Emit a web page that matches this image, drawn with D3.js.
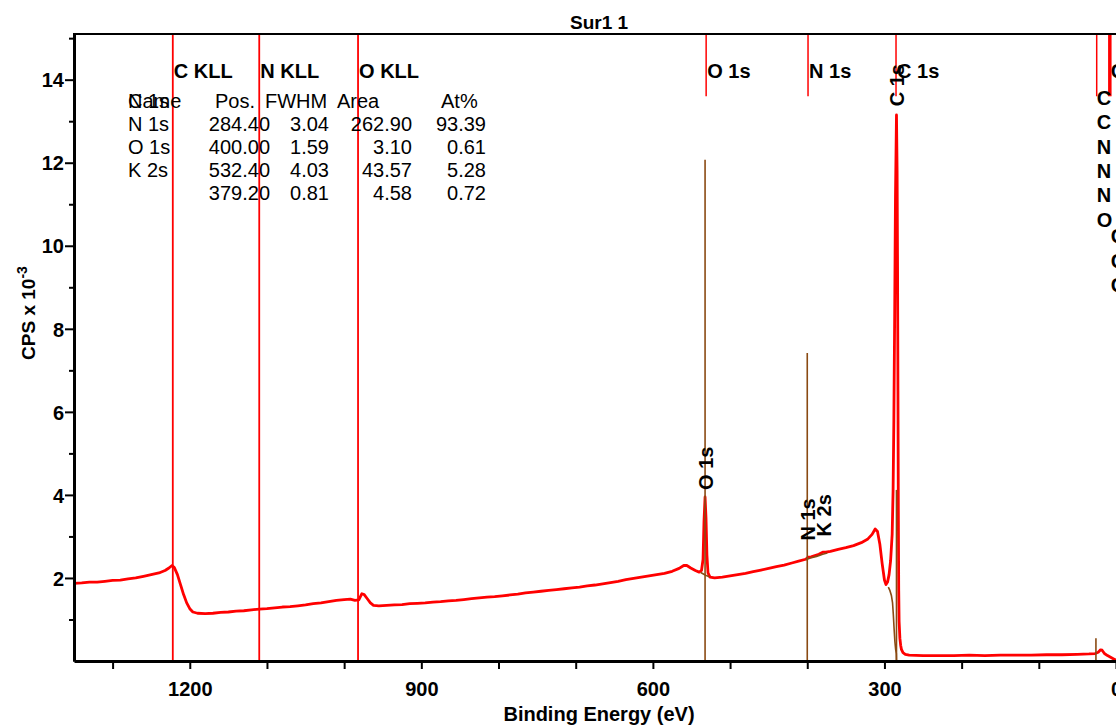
<!DOCTYPE html>
<html>
<head>
<meta charset="utf-8">
<script src="https://cdn.jsdelivr.net/npm/d3@7"></script>
<style>
  html, body { margin: 0; padding: 0; background: #fff; overflow: hidden; }
  svg { display: block; }
  text { font-family: "Liberation Sans", Arial, Helvetica, sans-serif; fill: #000; }
</style>
</head>
<body>
<svg id="chart" width="1116" height="725"></svg>
<script>
// Survey spectrum "Sur1 1": binding energy (eV) against counts (CPS x 10^-3)
const bindingEnergy = [
  1350, 1340, 1330, 1320, 1310, 1300, 1290, 1280, 1270, 1260, 1250, 1240, 1232, 1227, 1223, 1220,
  1216, 1212, 1208, 1204, 1200, 1196, 1190, 1180, 1170, 1160, 1150, 1140, 1130, 1120, 1110, 1100,
  1090, 1080, 1070, 1060, 1050, 1040, 1030, 1020, 1010, 1000, 992, 986, 981, 977, 974, 970,
  966, 962, 955, 945, 935, 925, 915, 905, 895, 885, 875, 865, 855, 845, 835, 825,
  815, 805, 795, 785, 775, 765, 755, 745, 735, 725, 715, 705, 695, 685, 675, 665,
  655, 645, 635, 625, 615, 605, 595, 585, 575, 566, 560, 556, 551, 545, 540, 537,
  535, 533.8, 532.4, 531.2, 530, 528.6, 526, 520, 510, 500, 490, 480, 470, 460, 450, 440,
  430, 420, 410, 402, 399, 395, 390, 385, 380, 376, 370, 360, 350, 340, 330, 322,
  316, 312, 309, 306, 303, 300, 298, 296, 294, 292, 290, 288.8, 287.8, 286.8, 285.7, 284.4,
  283.6, 283.0, 282.5, 282.0, 281.5, 281.0, 280.0, 279.0, 278.0, 276.0, 273.0, 268, 250, 230, 210, 190,
  170, 150, 130, 110, 90, 70, 50, 35, 27, 23, 20, 18, 15, 11, 7, 3, 0
];
const cps = [
  1.87, 1.88, 1.90, 1.90, 1.92, 1.94, 1.95, 1.98, 2.00, 2.04, 2.08, 2.12, 2.18, 2.24, 2.30, 2.25,
  2.08, 1.84, 1.60, 1.40, 1.26, 1.18, 1.15, 1.14, 1.15, 1.17, 1.18, 1.20, 1.21, 1.23, 1.25, 1.26,
  1.28, 1.30, 1.31, 1.33, 1.35, 1.38, 1.40, 1.43, 1.46, 1.48, 1.49, 1.46, 1.47, 1.62, 1.60, 1.50,
  1.40, 1.34, 1.33, 1.34, 1.35, 1.36, 1.38, 1.39, 1.40, 1.42, 1.43, 1.45, 1.46, 1.48, 1.50, 1.52,
  1.54, 1.55, 1.57, 1.59, 1.61, 1.64, 1.66, 1.68, 1.70, 1.72, 1.74, 1.76, 1.78, 1.81, 1.83, 1.86,
  1.89, 1.92, 1.96, 1.99, 2.02, 2.05, 2.08, 2.11, 2.16, 2.23, 2.30, 2.30, 2.24, 2.18, 2.14, 2.18,
  2.45, 3.35, 3.95, 3.45, 2.55, 2.12, 2.02, 2.00, 2.02, 2.05, 2.08, 2.11, 2.15, 2.19, 2.23, 2.27,
  2.31, 2.36, 2.41, 2.45, 2.50, 2.51, 2.54, 2.57, 2.62, 2.62, 2.64, 2.69, 2.73, 2.78, 2.85, 2.93,
  3.05, 3.18, 3.12, 2.82, 2.35, 1.95, 1.84, 1.90, 2.08, 2.42, 3.05, 4.10, 5.80, 8.20, 11.20, 13.15,
  11.80, 9.40, 6.50, 3.60, 1.70, 0.95, 0.55, 0.38, 0.28, 0.20, 0.16, 0.14, 0.13, 0.13, 0.13, 0.14,
  0.13, 0.14, 0.14, 0.14, 0.15, 0.15, 0.16, 0.17, 0.18, 0.21, 0.27, 0.26, 0.18, 0.13, 0.09, 0.05, 0.02
];

// Fitted backgrounds under the quantified peaks
const bgO1sEnergy = [538, 534, 530, 527];
const bgO1sCps = [2.13, 2.09, 2.05, 2.03];
const bgN1sEnergy = [402, 396, 388, 380, 374];
const bgN1sCps = [2.44, 2.48, 2.52, 2.57, 2.60];
const bgC1sEnergy = [295, 293, 291, 289.5, 288.5, 287.5, 286.5, 285.5, 284.6, 284.4];
const bgC1sCps = [1.78, 1.70, 1.58, 1.40, 1.12, 0.78, 0.48, 0.28, 0.18, 0.0];

// Component markers (position, height)
const componentPos = [532.4, 400.0, 284.4, 26];
const componentHeight = [12.07, 7.42, 4.12, 0.55];

// Element line markers
const augerNames = ["C KLL", "N KLL", "O KLL"];
const augerPos = [1222, 1110, 982];
const coreNames = ["O 1s", "N 1s", "C 1s"];
const corePos = [531, 399, 285];
const edgeLinePos = [25, 8];
const edgeLineWidth = [1.5, 3.5];
const edgeLabelsA = ["C", "C", "N", "N", "N", "O"];
const edgeLabelsB = ["C", "C", "C"];

// Peak annotations (name, position, CPS where the label starts)
const peakLabels = ["O 1s", "N 1s", "K 2s", "C 1s"];
const peakLabelPos = [532.4, 400.0, 379.2, 284.4];
const peakLabelAt = [4.12, 2.9, 3.0, 13.36];

// Quantification table
const tableHeader = ["Name", "Pos.", "FWHM", "Area", "At%"];
const tableNames = ["C 1s", "N 1s", "O 1s", "K 2s"];
const tablePos = ["284.40", "400.00", "532.40", "379.20"];
const tableFwhm = ["3.04", "1.59", "4.03", "0.81"];
const tableArea = ["262.90", "3.10", "43.57", "4.58"];
const tableAt = ["93.39", "0.61", "5.28", "0.72"];

// Axis ticks
const xTicks = d3.range(1300, -1, -100);
const xLabelStep = 300;
const yMajor = [2, 4, 6, 8, 10, 12, 14];
const yMinor = [1, 3, 5, 7, 9, 11, 13, 15];

const W = 1116, H = 725;
const RED = "#ff0000", BROWN = "#8a4a12";
const svg = d3.select("#chart");

const x = d3.scaleLinear().domain([1350, 0]).range([74, 1116]);
const y = d3.scaleLinear().domain([0, 15.1]).range([661, 34]);

svg.append("defs").append("clipPath").attr("id", "plot")
  .append("rect").attr("x", x(1350)).attr("y", y(15.1))
  .attr("width", W - x(1350)).attr("height", y(0) - y(15.1));

// Title
svg.append("text").attr("x", 599).attr("y", 29).attr("text-anchor", "middle")
  .style("font-size", "19px").style("font-weight", "bold").text("Sur1 1");

const plot = svg.append("g").attr("clip-path", "url(#plot)");

// Full-height Auger markers
plot.selectAll("line.auger").data(augerPos).join("line")
  .attr("x1", d => x(d)).attr("x2", d => x(d))
  .attr("y1", y(15.1)).attr("y2", y(0))
  .attr("stroke", RED).attr("stroke-width", 1.8);

// Short core-level markers from the top
plot.selectAll("line.core").data(corePos).join("line")
  .attr("x1", d => x(d)).attr("x2", d => x(d))
  .attr("y1", y(15.1)).attr("y2", y(13.6))
  .attr("stroke", RED).attr("stroke-width", 1.5);

plot.selectAll("line.edge").data(edgeLinePos).join("line")
  .attr("x1", d => x(d)).attr("x2", d => x(d))
  .attr("y1", y(15.1)).attr("y2", y(13.6))
  .attr("stroke", RED).attr("stroke-width", (d, i) => edgeLineWidth[i]);

// Spectrum
const spectrum = bindingEnergy.map((e, i) => [e, cps[i]]);
const line = d3.line().x(d => x(d[0])).y(d => y(d[1]));
plot.append("path").datum(spectrum).attr("d", line)
  .attr("fill", "none").attr("stroke", RED).attr("stroke-width", 2.8)
  .attr("stroke-linejoin", "round");

// Backgrounds
[[bgO1sEnergy, bgO1sCps], [bgN1sEnergy, bgN1sCps], [bgC1sEnergy, bgC1sCps]].forEach(([e, c]) => {
  plot.append("path").datum(e.map((v, i) => [v, c[i]])).attr("d", line)
    .attr("fill", "none").attr("stroke", BROWN).attr("stroke-width", 1.6);
});

// Component markers
plot.selectAll("line.comp").data(componentPos).join("line")
  .attr("x1", d => x(d)).attr("x2", d => x(d))
  .attr("y1", (d, i) => y(componentHeight[i])).attr("y2", y(0))
  .attr("stroke", BROWN).attr("stroke-width", 1.6);

// Axes
const gx = svg.append("g").attr("transform", `translate(0,${y(0)})`)
  .call(d3.axisBottom(x).tickValues(xTicks).tickSize(8).tickSizeOuter(0).tickPadding(13)
    .tickFormat(d => d % xLabelStep === 0 ? d : ""));
const gyMinor = svg.append("g").attr("transform", `translate(${x(1350)},0)`)
  .call(d3.axisLeft(y).tickValues(yMinor).tickSize(5).tickSizeOuter(0).tickFormat(""));
const gy = svg.append("g").attr("transform", `translate(${x(1350)},0)`)
  .call(d3.axisLeft(y).tickValues(yMajor).tickSize(9).tickSizeOuter(0).tickPadding(1));
[gx, gy, gyMinor].forEach(g => {
  g.select(".domain").attr("stroke", "#000").attr("stroke-width", 3);
  g.selectAll(".tick line").attr("stroke", "#000").attr("stroke-width", 2);
  g.selectAll(".tick text").attr("fill", "#000")
    .style("font-size", "20px").style("font-weight", "bold")
    .style("font-family", "'Liberation Sans', Arial, sans-serif");
});
gy.selectAll(".tick text").attr("dy", "0.36em");

// Top frame
svg.append("line").attr("x1", x(1350) - 1).attr("x2", W)
  .attr("y1", y(15.1)).attr("y2", y(15.1))
  .attr("stroke", "#000").attr("stroke-width", 2);

// Axis titles
svg.append("text").attr("x", 599).attr("y", 721).attr("text-anchor", "middle")
  .style("font-size", "20px").style("font-weight", "bold").text("Binding Energy (eV)");
const yt = svg.append("text").attr("transform", "translate(35,313) rotate(-90)")
  .attr("text-anchor", "middle").style("font-size", "19px").style("font-weight", "bold");
yt.append("tspan").text("CPS x 10");
yt.append("tspan").attr("dy", -8).style("font-size", "14px").text("-3");

// Marker labels along the top
const labelFont = g => g.style("font-size", "20px").style("font-weight", "bold");
svg.selectAll("text.auger").data(augerNames).join("text")
  .attr("x", (d, i) => x(augerPos[i]) + 1).attr("y", 78).call(labelFont).text(d => d);
svg.selectAll("text.core").data(coreNames).join("text")
  .attr("x", (d, i) => x(corePos[i]) + 1).attr("y", 78).call(labelFont).text(d => d);
svg.selectAll("text.edgeA").data(edgeLabelsA).join("text")
  .attr("x", x(edgeLinePos[0])).attr("y", (d, i) => 105 + i * 24.3).call(labelFont).text(d => d);
svg.append("text").attr("x", x(edgeLinePos[1]) + 1).attr("y", 78).call(labelFont).text("C");
svg.selectAll("text.edgeB").data(edgeLabelsB).join("text")
  .attr("x", x(edgeLinePos[1]) + 1).attr("y", (d, i) => 243 + i * 24.5).call(labelFont).text(d => d);

// Rotated peak labels
svg.selectAll("text.peak").data(peakLabels).join("text")
  .attr("transform", (d, i) => `translate(${x(peakLabelPos[i]) + 8},${y(peakLabelAt[i])}) rotate(-90)`)
  .call(labelFont).text(d => d);

// Quantification table (names sit one row above their values)
const rowY = [108, 131, 154, 177, 200];
const tbl = svg.append("g").style("font-size", "20px");
const headerX = [128, 215, 265, 337, 441];
tableHeader.forEach((h, i) => tbl.append("text").attr("x", headerX[i]).attr("y", rowY[0]).text(h));
tableNames.forEach((n, i) => tbl.append("text").attr("x", 128).attr("y", rowY[i]).text(n));
const colRight = [270, 329, 412, 486];
[tablePos, tableFwhm, tableArea, tableAt].forEach((col, c) => {
  col.forEach((v, i) => tbl.append("text").attr("x", colRight[c]).attr("y", rowY[i + 1])
    .attr("text-anchor", "end").text(v));
});
</script>
</body>
</html>
